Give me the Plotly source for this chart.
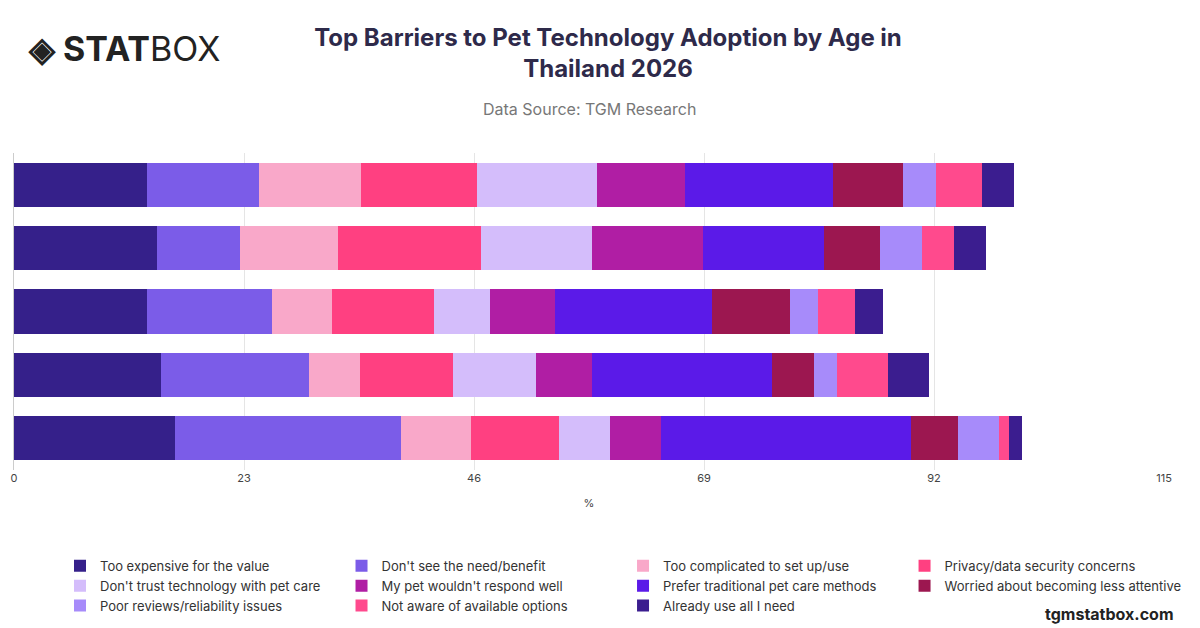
import plotly.graph_objects as go

ages = ["18-24", "25-34", "35-44", "45-54", "55+"]
series = ["Too expensive for the value", "Don't see the need/benefit", "Too complicated to set up/use",
          "Privacy/data security concerns", "Don't trust technology with pet care", "My pet wouldn't respond well",
          "Prefer traditional pet care methods", "Worried about becoming less attentive", "Poor reviews/reliability issues",
          "Not aware of available options", "Already use all I need"]
colors = ["#35208a", "#7b5ce8", "#f9a8c9", "#ff4081", "#d4bdfb", "#b01ea4", "#5b1ae8", "#9c1750", "#a78bfa", "#ff4a8d", "#3b1d8f"]
# rows top to bottom
values = [
    [13.3, 11.2, 10.2, 11.6, 12.0, 8.8, 14.8, 7.0, 3.3, 4.6, 3.2],
    [14.3, 8.3, 9.8, 14.3, 11.1, 11.1, 12.1, 5.6, 4.2, 3.2, 3.2],
    [13.3, 12.5, 6.0, 10.2, 5.6, 6.5, 15.7, 7.8, 2.8, 3.7, 2.8],
    [14.7, 14.8, 5.1, 9.3, 8.3, 5.6, 18.0, 4.2, 2.3, 5.1, 4.1],
    [16.1, 22.6, 7.0, 8.8, 5.1, 5.1, 25.0, 4.7, 4.1, 1.0, 1.3],
]
xticks = [0, 23, 46, 69, 92, 115]

fig = go.Figure()
for j, name in enumerate(series):
    fig.add_trace(go.Bar(y=ages, x=[row[j] for row in values], name=name, orientation="h",
                         marker=dict(color=colors[j], line=dict(width=0))))
fig.update_layout(
    barmode="stack", bargap=0.3, width=1200, height=628,
    paper_bgcolor="white", plot_bgcolor="white",
    font=dict(family="Inter, sans-serif", color="#444"),
    margin=dict(l=6, r=44, t=145, b=166, autoexpand=False),
    title=dict(text="<b>Top Barriers to Pet Technology Adoption by Age in<br>Thailand 2026</b>",
               x=0.5, y=0.94, xanchor="center", yanchor="top", font=dict(size=24, color="#2e2a4a")),
    xaxis=dict(range=[0, 115], tickvals=xticks, showgrid=True, gridcolor="#e5e5e5", zeroline=False,
               title=dict(text="%", font=dict(size=11)), tickfont=dict(size=11)),
    yaxis=dict(autorange="reversed", showticklabels=False, showline=True, linecolor="#ccc"),
    legend=dict(orientation="h", x=0.04, y=-0.255, xanchor="left", yanchor="top", font=dict(size=13, color="#333"),
                traceorder="normal", entrywidth=0, entrywidthmode="pixels"),
    showlegend=True,
)
fig.add_annotation(text="Data Source: TGM Research", x=0.5, y=1.139, xref="paper", yref="paper",
                   yanchor="middle", xanchor="center", showarrow=False, font=dict(size=16, color="#777"))
fig.add_annotation(text="<b>◈ STAT</b>BOX", x=0.01, y=1.33, xref="paper", yref="paper", xanchor="left",
                   yanchor="middle", showarrow=False, font=dict(size=34, color="#222"))
fig.add_annotation(text="<b>tgmstatbox.com</b>", x=1.01, y=-0.454, xref="paper", yref="paper", xanchor="right",
                   yanchor="middle", showarrow=False, font=dict(size=16, color="#222"))
fig.write_html("out.html")
